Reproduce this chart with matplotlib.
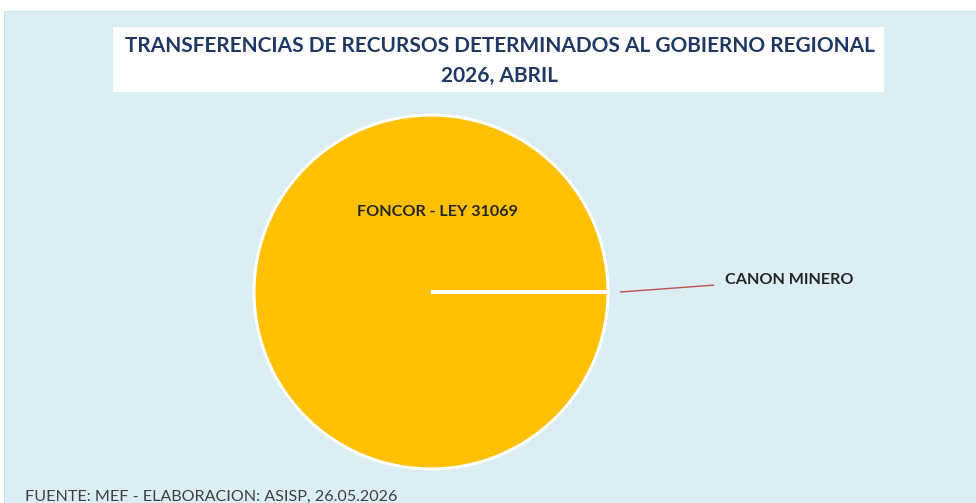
import matplotlib.pyplot as plt
from matplotlib.patches import Rectangle

# data
labels = ["FONCOR - LEY 31069", "CANON MINERO"]
values = [99.99, 0.01]
colors = ["#FFC000", "#FFC000"]

title = "TRANSFERENCIAS DE RECURSOS DETERMINADOS AL GOBIERNO REGIONAL\n2026, ABRIL"
source = "FUENTE: MEF - ELABORACION: ASISP, 26.05.2026"

W, H = 976, 503
fig = plt.figure(figsize=(W / 100, H / 100), dpi=100)
fig.patch.set_facecolor("white")

# light blue panel
fig.patches.append(Rectangle((4 / W, 0), 1, 1 - 11 / H, transform=fig.transFigure,
                             facecolor="#DAEEF3", edgecolor="#C9E0E8", lw=0.8, zorder=0))
# white title box
fig.patches.append(Rectangle((113 / W, 1 - 92 / H), (884 - 113) / W, 65 / H,
                             transform=fig.transFigure, facecolor="white",
                             edgecolor="none", zorder=1))
fig.text(500 / W, 1 - 61 / H, title, ha="center", va="center", fontsize=15,
         fontweight="bold", color="#1F3864", family="Lato", linespacing=1.6,
         zorder=3)

# pie: center (431, 292), radius 177 px
r = 177
ax = fig.add_axes([(431 - r) / W, 1 - (292 + r) / H, 2 * r / W, 2 * r / H])
ax.set_zorder(5)
ax.set_facecolor("none")
wedges, _ = ax.pie(values, colors=colors, startangle=0, counterclock=False,
                   wedgeprops=dict(edgecolor="white", linewidth=2.2))
ax.set_xlim(-1, 1)
ax.set_ylim(-1, 1)
ax.set_aspect("auto")
ax.axis("off")

# labels
ax.text(0.035, 0.45, labels[0], ha="center", va="center", fontsize=11.6,
        fontweight="bold", color="#262626", family="Lato")
ax.annotate(labels[1], xy=(1.07, 0.0), xytext=(1.66, 0.07),
            ha="left", va="center", fontsize=11.6, fontweight="bold",
            color="#262626", family="Lato", annotation_clip=False,
            arrowprops=dict(arrowstyle="-", color="#C0504D", lw=1.0,
                            shrinkA=6, shrinkB=0))

fig.text(25 / W, 1 - 497 / H, source, ha="left", va="center", fontsize=11.6,
         color="#404040", family="Lato")

fig.savefig("out.png", dpi=100, facecolor=fig.get_facecolor())
